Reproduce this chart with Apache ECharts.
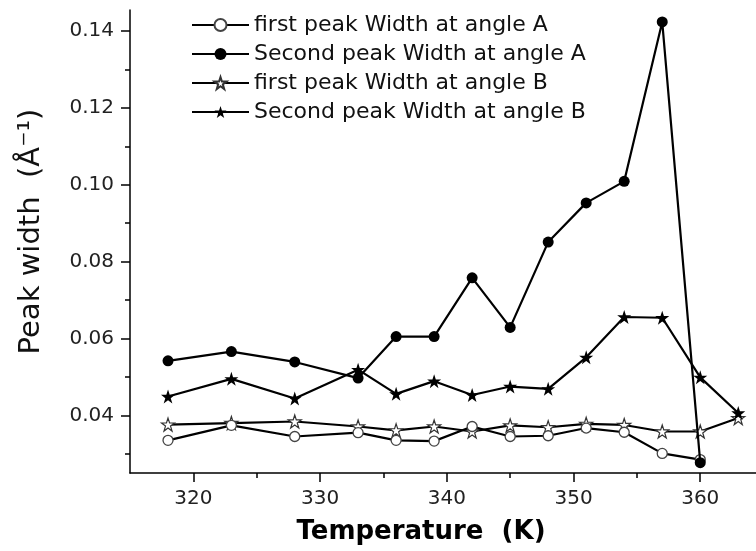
<!DOCTYPE html>
<html><head><meta charset="utf-8">
<script src="https://cdn.jsdelivr.net/npm/echarts@6/dist/echarts.min.js"></script>
<style>html,body{margin:0;padding:0;background:#fff}#c{width:756px;height:551px}</style>
</head><body><div id="c"></div>
<script>
// ---- data ----
const tempsA = [318, 323, 328, 333, 336, 339, 342, 345, 348, 351, 354, 357, 360];
const tempsB = [318, 323, 328, 333, 336, 339, 342, 345, 348, 351, 354, 357, 360, 363];
const firstPeakA  = [0.0335, 0.0374, 0.0345, 0.0355, 0.0335, 0.0333, 0.0371, 0.0345, 0.0347, 0.0367, 0.0356, 0.0301, 0.0285];
const secondPeakA = [0.0542, 0.0566, 0.0539, 0.0497, 0.0605, 0.0605, 0.0758, 0.0629, 0.0851, 0.0953, 0.1009, 0.1424, 0.0277];
const firstPeakB  = [0.0376, 0.0380, 0.0384, 0.0371, 0.0361, 0.0371, 0.0358, 0.0374, 0.0369, 0.0378, 0.0375, 0.0358, 0.0358, 0.0393];
const secondPeakB = [0.0449, 0.0495, 0.0444, 0.0519, 0.0456, 0.0489, 0.0453, 0.0475, 0.0469, 0.0551, 0.0656, 0.0654, 0.0499, 0.0406];
const seriesNames = [
  'first peak Width at angle A',
  'Second peak Width at angle A',
  'first peak Width at angle B',
  'Second peak Width at angle B'
];
const xMajorTicks = [320, 330, 340, 350, 360];
const xMinorTicks = [325, 335, 345, 355];
const yMajorTicks = [0.04, 0.06, 0.08, 0.10, 0.12, 0.14];
const yMinorTicks = [0.03, 0.05, 0.07, 0.09, 0.11, 0.13];
const xTitle = 'Temperature  (K)';
const yTitle = 'Peak width  (\u00C5\u207B\u00B9)';

// ---- chart ----
const STAR = 'path://M50,0 L61.8,35.1 L98.9,35.1 L69,57 L80.3,92.7 L50,70.8 L19.7,92.7 L31,57 L1.1,35.1 L38.2,35.1 Z';
const FONT = 'DejaVu Sans';
const chart = echarts.init(document.getElementById('c'), null, {renderer: 'canvas'});

function pairs(xs, ys) { return xs.map((x, i) => [x, ys[i]]); }
const lineStyle = {color: '#000', width: 2.2};

const option = {
  animation: false,
  backgroundColor: '#fff',
  grid: {left: 130, right: 0, top: 10, bottom: 78, containLabel: false},
  legend: {
    orient: 'vertical', left: 186, top: 9,
    itemWidth: 57, itemHeight: 15, itemGap: 7,
    textStyle: {fontFamily: FONT, fontSize: 22, color: '#111'},
    data: seriesNames
  },
  xAxis: [
    {
      type: 'value', min: 315, max: 364.4, position: 'bottom',
      name: xTitle, nameLocation: 'middle', nameGap: 46,
      nameTextStyle: {fontFamily: FONT, fontWeight: 'bold', fontSize: 26, color: '#000', padding: [0, 44, 0, 0]},
      axisLine: {show: true, onZero: false, lineStyle: {color: '#000', width: 1.5}},
      axisTick: {show: true, length: 9, customValues: xMajorTicks, lineStyle: {color: '#000', width: 1.5}},
      axisLabel: {show: true, customValues: xMajorTicks, margin: 16, fontFamily: FONT, fontSize: 20, color: '#222'},
      splitLine: {show: false}
    },
    {
      type: 'value', min: 315, max: 364.4, position: 'bottom',
      axisLine: {show: false, onZero: false},
      axisTick: {show: true, length: 5, customValues: xMinorTicks, lineStyle: {color: '#000', width: 1.5}},
      axisLabel: {show: false},
      splitLine: {show: false}
    }
  ],
  yAxis: [
    {
      type: 'value', min: 0.025, max: 0.1455, position: 'left',
      name: yTitle, nameLocation: 'middle', nameGap: 84, nameRotate: 90,
      nameTextStyle: {fontFamily: FONT, fontSize: 29, color: '#111', padding: [0, 0, 0, 20]},
      axisLine: {show: true, onZero: false, lineStyle: {color: '#000', width: 1.5}},
      axisTick: {show: true, length: 9, customValues: yMajorTicks, lineStyle: {color: '#000', width: 1.5}},
      axisLabel: {show: true, customValues: yMajorTicks, margin: 16, fontFamily: FONT, fontSize: 20, color: '#222',
        formatter: v => v.toFixed(2)},
      splitLine: {show: false}
    },
    {
      type: 'value', min: 0.025, max: 0.1455, position: 'left',
      axisLine: {show: false, onZero: false},
      axisTick: {show: true, length: 5, customValues: yMinorTicks, lineStyle: {color: '#000', width: 1.5}},
      axisLabel: {show: false},
      splitLine: {show: false}
    }
  ],
  series: [
    {
      name: seriesNames[0], type: 'line', data: pairs(tempsA, firstPeakA),
      symbol: 'circle', symbolSize: 10, lineStyle: lineStyle,
      itemStyle: {color: '#fff', borderColor: '#444', borderWidth: 1.3}, z: 3
    },
    {
      name: seriesNames[1], type: 'line', data: pairs(tempsA, secondPeakA),
      symbol: 'circle', symbolSize: 11, lineStyle: lineStyle,
      itemStyle: {color: '#000', borderColor: '#000', borderWidth: 0}, z: 4
    },
    {
      name: seriesNames[2], type: 'line', data: pairs(tempsB, firstPeakB),
      symbol: STAR, symbolSize: 13, lineStyle: lineStyle,
      itemStyle: {color: '#fff', borderColor: '#333', borderWidth: 1.2}, z: 2
    },
    {
      name: seriesNames[3], type: 'line', data: pairs(tempsB, secondPeakB),
      symbol: STAR, symbolSize: 14, lineStyle: lineStyle,
      itemStyle: {color: '#000', borderColor: '#000', borderWidth: 0}, z: 5
    }
  ]
};
chart.setOption(option);
</script>
</body></html>
